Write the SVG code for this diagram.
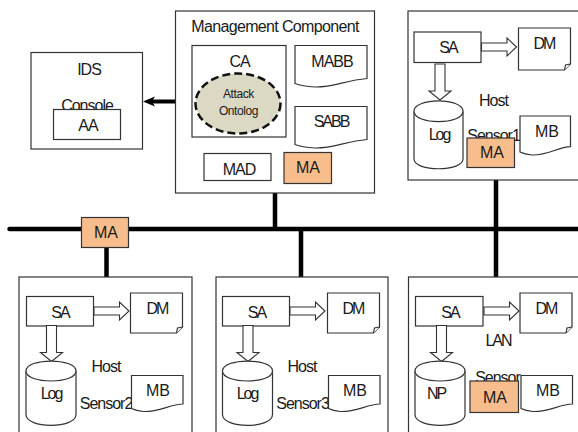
<svg xmlns="http://www.w3.org/2000/svg" width="578" height="432" viewBox="0 0 578 432">
<defs>
<style>
text{font-family:"Liberation Sans",Arial,sans-serif;font-size:16px;fill:#1a1a1a;text-anchor:middle;letter-spacing:-1px}
text.w{letter-spacing:-.65px}
text.z{letter-spacing:0}
text.t{letter-spacing:-2px}
text.s{font-size:12px;letter-spacing:-.4px}
.b{fill:#fff;stroke:#333;stroke-width:1.2}
.ma{fill:#f8bd8c;stroke:#333;stroke-width:1.2}
.bus{stroke:#000;stroke-width:4.500;fill:none}
.h{fill:#fff;stroke:#333;stroke-width:1.1;stroke-linejoin:miter}
</style>
<g id="cyl"><path class="b" d="M0 10.300C0 -3.500 49 -3.500 49 10.300V58C49 71 0 71 0 58Z"/><path class="b" d="M0 10.300C0 24 49 24 49 10.300" fill="none"/></g>
<g id="cyl2"><path class="b" d="M0 10C0 -3.300 50 -3.300 50 10V53.500C50 68 0 68 0 53.500Z"/><path class="b" d="M0 10C0 23.300 50 23.300 50 10" fill="none"/></g>
<path id="wave" class="b" d="M0 0H72V33C50 35 38 42 20 41.500C10 41 5 40 0 38Z"/>
<path id="wave2" class="b" d="M0 0H50.500V30.700C38 31 28 39.500 12 39C7 38.500 3 37.500 0 36Z"/>
<path id="wave3" class="b" d="M0 0H51.500V28.500C38 29 28 36.500 12 36C7 35.500 3 34.500 0 33Z"/>
<g id="note"><path class="b" d="M0 0H52V36L46 42H0Z"/><path class="b" d="M46 42L47 37L52 36"/></g>
<g id="note2"><path class="b" d="M0 0H52V34L46 40H0Z"/><path class="b" d="M46 40L47 35L52 34"/></g>
<path id="ra" class="h" d="M0 5.500H25.500V.5L35 9.500L25.500 18.500V13.500H0Z"/>
<path id="da" class="h" d="M5 0H15V27H21L10 36L-1 27H5Z"/>
</defs>
<g id="connectors">
<path class="bus" d="M9.500 229H578" stroke-linecap="round"/>
<path class="bus" d="M275 193V229M106.500 247V277M301 228V277M496 180V277"/>
<path d="M175 101.500H152" stroke="#000" stroke-width="4"/>
<path d="M143 101.500L155 96.500L152 101.500L155 106.500Z" fill="#000"/>
</g>
<g id="ids"><rect class="b" x="31" y="52.500" width="111.500" height="96.500"/><text x="89" y="75">IDS</text><text x="87" y="111">Console</text></g>
<g id="aa"><rect class="b" x="53.500" y="109.500" width="67" height="30"/><text x="88" y="131">AA</text></g>
<g id="management"><rect class="b" x="175.500" y="11" width="199" height="182"/><text class="w" x="275" y="32">Management Component</text></g>
<g id="ca"><rect class="b" x="192" y="45.500" width="94" height="91.500"/><text x="239.500" y="67">CA</text></g>
<g id="ontology"><ellipse cx="238" cy="103.500" rx="42.500" ry="30" fill="#dbd8c3" stroke="#111" stroke-width="2.500" stroke-dasharray="8 4"/><text class="s" x="238.500" y="98">Attack</text><text class="s" x="238.500" y="115">Ontolog</text></g>
<g id="mabb"><use href="#wave" x="295" y="45.500"/><text x="332" y="67">MABB</text></g>
<g id="sabb"><use href="#wave" x="295" y="106.500"/><text class="t" x="331" y="127">SABB</text></g>
<g id="mad"><rect class="b" x="204" y="153.500" width="67" height="27"/><text x="239" y="175">MAD</text></g>
<g id="ma-mgmt"><rect class="ma" x="284" y="152.500" width="47.500" height="31"/><text class="z" x="308" y="173">MA</text></g>
<g id="sensor1"><rect class="b" x="408" y="11" width="175" height="169"/><text x="493.500" y="106">Host</text><text x="493.500" y="141">Sensor1</text>
<rect class="b" x="414" y="32" width="67" height="30.500"/><text class="t" x="448" y="53">SA</text>
<use href="#ra" x="481.500" y="37.500"/>
<use href="#note" x="518.500" y="28"/><text class="t" x="544" y="49">DM</text>
<use href="#da" x="430" y="64"/>
<use href="#cyl" x="414" y="101"/><text class="t" x="439" y="140">Log</text>
<use href="#wave2" x="520" y="116"/><text class="z" x="547" y="137">MB</text>
<rect class="ma" x="467" y="138" width="47.500" height="29.500"/><text class="z" x="492" y="158">MA</text></g>
<g id="sensor2"><rect class="b" x="19" y="277" width="173" height="165"/><text x="106" y="372">Host</text><text x="106" y="409">Sensor2</text>
<rect class="b" x="26.500" y="296.500" width="67" height="29.500"/><text class="t" x="60" y="318">SA</text>
<use href="#ra" x="94" y="301.500"/>
<use href="#note2" x="130.500" y="293"/><text class="t" x="157" y="314">DM</text>
<use href="#da" x="41.500" y="325.500"/>
<use href="#cyl2" x="26" y="361"/><text class="t" x="51" y="399">Log</text>
<use href="#wave3" x="131.500" y="375.500"/><text class="z" x="158" y="396">MB</text></g>
<g id="sensor3"><rect class="b" x="216" y="277" width="172" height="165"/><text x="302" y="372">Host</text><text x="302.500" y="409">Sensor3</text>
<rect class="b" x="222.500" y="296.500" width="67" height="29.500"/><text class="t" x="256.500" y="318">SA</text>
<use href="#ra" x="290" y="301.500"/>
<use href="#note2" x="327.500" y="293"/><text class="t" x="353" y="314">DM</text>
<use href="#da" x="238" y="325.500"/>
<use href="#cyl2" x="222.500" y="361"/><text class="t" x="247" y="399">Log</text>
<use href="#wave3" x="328.500" y="375.500"/><text class="z" x="355" y="396">MB</text></g>
<g id="lan-sensor"><rect class="b" x="408.500" y="277" width="175" height="165"/><text class="t" x="498" y="346">LAN</text><text x="497.500" y="383">Sensor</text>
<rect class="b" x="415.500" y="296.500" width="67.500" height="29.500"/><text class="t" x="450" y="318">SA</text>
<use href="#ra" x="484" y="301.500"/>
<use href="#note2" x="520" y="293"/><text class="t" x="546" y="314">DM</text>
<use href="#da" x="431.500" y="325.500"/>
<use href="#cyl2" x="415" y="361"/><text class="t" x="436" y="399">NP</text>
<rect class="ma" x="470" y="381" width="48.500" height="31.500"/><text class="z" x="495" y="403">MA</text>
<use href="#wave3" x="521" y="375.500"/><text class="z" x="548" y="396">MB</text></g>
<g id="ma-bus"><rect class="ma" x="81.500" y="217.500" width="47" height="30"/><text class="z" x="106" y="238">MA</text></g>
</svg>
